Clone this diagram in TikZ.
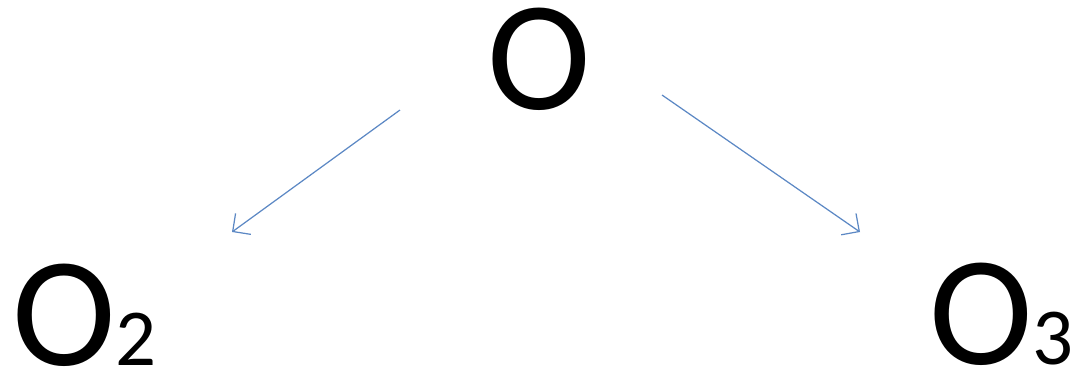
\documentclass[tikz,border=0pt]{standalone}
\usepackage{fontspec}
\setmainfont{Carlito}
\usetikzlibrary{arrows.meta}
\definecolor{arrowblue}{RGB}{92,136,196}
\newcommand{\lettersize}{\fontsize{89}{89}\selectfont}
\newcommand{\idxsize}{\fontsize{46}{46}\selectfont}

\begin{document}
\begin{tikzpicture}[x=0.02cm, y=-0.02cm,
  letter/.style={inner sep=0pt, anchor=base west, font=\lettersize},
  link/.style={draw=arrowblue, line width=0.7pt,
    -{Straight Barb[length=2.6mm,width=5.2mm,line width=0.7pt]}}]
\useasboundingbox (0,0) rectangle (1072,373);
\node[letter] (O) at (487,109) {O};
\node[letter] (O2) at (12,365) {O\idxsize 2};
\node[letter] (O3) at (929,364) {O\idxsize 3};
\coordinate (l1) at (400,110);
\coordinate (l2) at (232,232);
\coordinate (r1) at (662,95);
\coordinate (r2) at (860,232);
\draw[link] (l1) -- (l2);
\draw[link] (r1) -- (r2);
\end{tikzpicture}
\end{document}
